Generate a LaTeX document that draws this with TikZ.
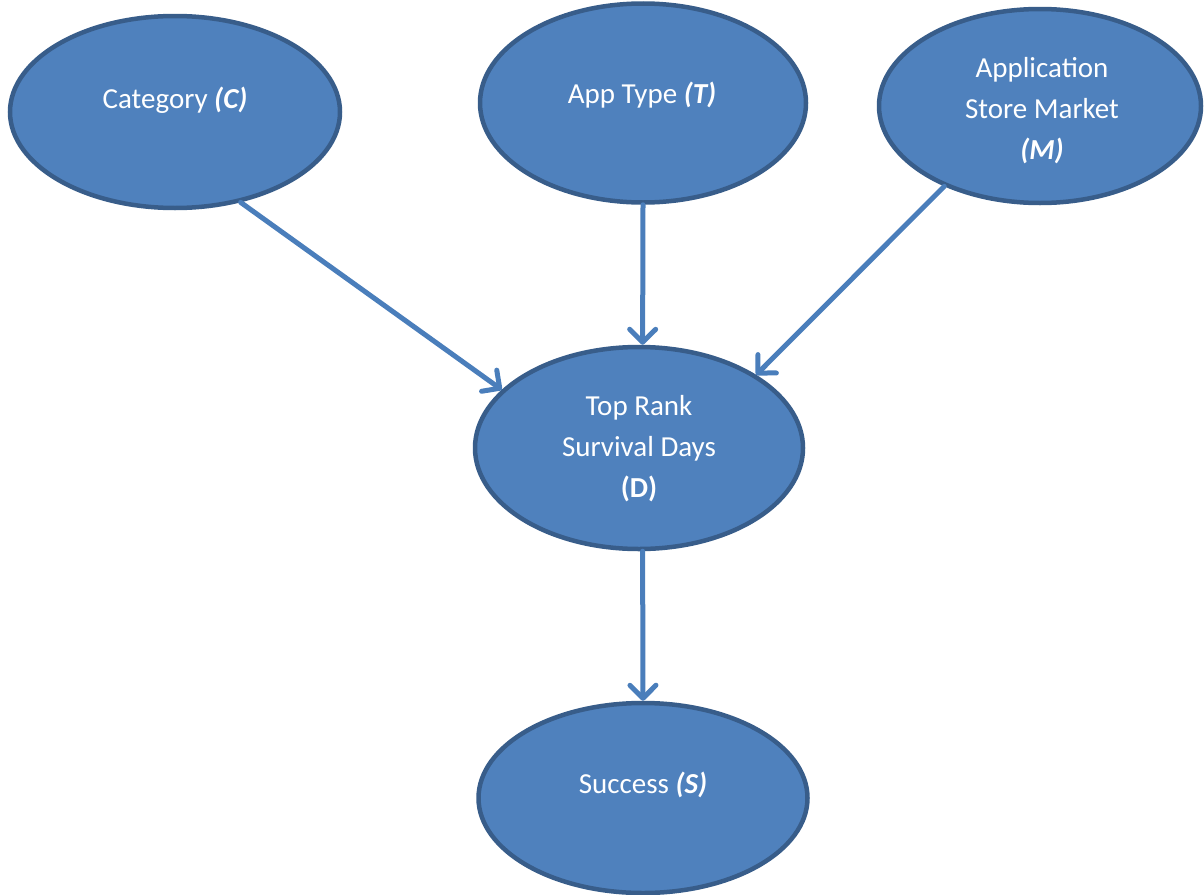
\documentclass[tikz,border=0pt]{standalone}
\usepackage{fontspec}
\setmainfont{Carlito}
\usetikzlibrary{shapes.geometric,arrows.meta}
\definecolor{fillblue}{HTML}{4F81BD}
\definecolor{edgeblue}{HTML}{385D8A}
\definecolor{arrblue}{HTML}{4A7EBB}
\tikzset{
  oval/.style={ellipse, draw=edgeblue, fill=fillblue, line width=4.5pt, inner sep=0pt},
  lbl/.style={text=white, align=center, font=\fontsize{29}{41}\selectfont},
  arr/.style={draw=arrblue, line width=5pt, line cap=round,
    -{Straight Barb[length=13pt,width=26pt,line width=5pt,round]}}
}
\begin{document}
\begin{tikzpicture}[x=1pt,y=-1pt]
\useasboundingbox (0,0) rectangle (1204,894);
\node[oval, minimum width=330pt, minimum height=192pt] (c) at (175,112) {};
\node[oval, minimum width=326pt, minimum height=199pt] (t) at (643,103) {};
\node[oval, minimum width=322pt, minimum height=194pt] (m) at (1040,106) {};
\node[oval, minimum width=328pt, minimum height=202pt] (d) at (639,448) {};
\node[oval, minimum width=329pt, minimum height=190pt] (s) at (643,798) {};
\node[lbl] (cl) at (175,100) {Category \textbf{\textit{(C)}}};
\node[lbl] (tl) at (642,95) {App Type \textbf{\textit{(T)}}};
\node[lbl] (ml) at (1042,111) {Application\\Store Market\\\textbf{\textit{(M)}}};
\node[lbl] (dl) at (639,449) {Top Rank\\Survival Days\\\textbf{(D)}};
\node[lbl] (sl) at (643,785) {Success \textbf{\textit{(S)}}};
\draw[arr] (c.306.8) -- (d.157);
\draw[arr] (t.south) -- (d.88);
\draw[arr] (m.220) -- (d.32);
\draw[arr] (d.272) -- (s.north);
\end{tikzpicture}
\end{document}
